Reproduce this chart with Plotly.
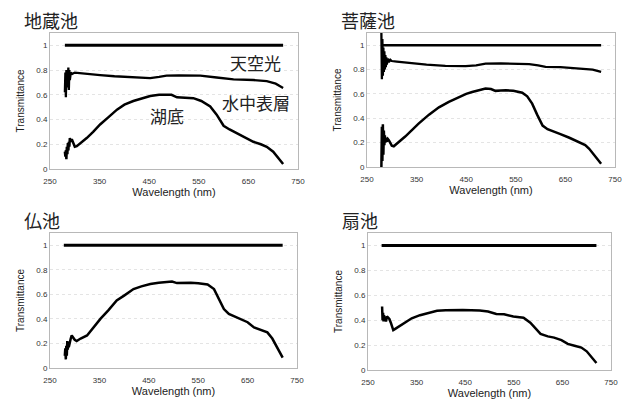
import plotly.graph_objects as go

# ---------------- data ----------------
titles = ["地蔵池", "菩薩池", "仏池", "扇池"]

sky_wl = [[280, 720], [280, 722], [278, 721], [278, 720]]
sky_val = [[1.0, 1.0], [1.0, 1.0], [1.0, 1.0], [1.0, 1.0]]

# 地蔵池
p1_surf_wl = [280, 281, 282, 283, 284, 285, 286, 287, 288, 289, 290, 292, 295, 300, 310, 330, 351,
              380, 420, 452, 470, 485, 510, 553, 586, 620, 660, 687, 705, 720]
p1_surf_val = [0.62, 0.78, 0.58, 0.80, 0.66, 0.79, 0.70, 0.82, 0.64, 0.80, 0.72, 0.78, 0.77, 0.78,
               0.775, 0.765, 0.76, 0.75, 0.74, 0.735, 0.745, 0.755, 0.758, 0.755, 0.74, 0.725, 0.72,
               0.71, 0.69, 0.655]
p1_bot_wl = [280, 281, 282, 283, 284, 285, 286, 287, 288, 289, 290, 292, 294, 297, 300, 304, 312,
             324, 337, 351, 368, 385, 400, 418, 435, 452, 470, 485, 495, 506, 520, 539, 555, 573,
             586, 600, 612, 627, 645, 660, 675, 687, 700, 710, 720]
p1_bot_val = [0.14, 0.10, 0.15, 0.08, 0.18, 0.12, 0.21, 0.15, 0.22, 0.18, 0.25, 0.22, 0.24, 0.20,
              0.18, 0.185, 0.21, 0.25, 0.30, 0.36, 0.42, 0.48, 0.52, 0.55, 0.57, 0.59, 0.60, 0.603,
              0.60, 0.58, 0.575, 0.573, 0.55, 0.505, 0.44, 0.35, 0.32, 0.29, 0.255, 0.22, 0.20,
              0.18, 0.14, 0.09, 0.04]

# 菩薩池
p2_surf_wl = [279, 280, 281, 282, 283, 284, 285, 286, 287, 288, 289, 290, 292, 294, 297, 300, 310,
              320, 341, 370, 408, 449, 470, 489, 520, 543, 577, 595, 610, 640, 678, 705, 722]
p2_surf_val = [1.1, 0.72, 1.05, 0.75, 0.98, 0.78, 0.95, 0.80, 0.92, 0.82, 0.90, 0.84, 0.89, 0.86,
               0.88, 0.87, 0.865, 0.86, 0.85, 0.84, 0.83, 0.828, 0.835, 0.848, 0.85, 0.85, 0.845,
               0.835, 0.822, 0.82, 0.81, 0.80, 0.78]
p2_bot_wl = [279, 280, 281, 282, 283, 284, 285, 286, 287, 288, 290, 292, 294, 297, 300, 304, 310,
             327, 340, 354, 375, 395, 415, 435, 450, 462, 475, 489, 500, 509, 520, 530, 545, 563,
             573, 583, 593, 604, 614, 624, 640, 658, 678, 690, 698, 710, 722]
p2_bot_val = [0.0, 0.33, 0.05, 0.35, 0.10, 0.30, 0.18, 0.26, 0.20, 0.24, 0.21, 0.23, 0.22, 0.20,
              0.175, 0.17, 0.19, 0.25, 0.30, 0.356, 0.43, 0.49, 0.535, 0.575, 0.60, 0.616, 0.63,
              0.644, 0.64, 0.625, 0.628, 0.63, 0.625, 0.61, 0.58, 0.52, 0.43, 0.34, 0.31, 0.296,
              0.27, 0.24, 0.205, 0.18, 0.15, 0.09, 0.027]

# 仏池
p3_bot_wl = [280, 281, 282, 283, 284, 285, 286, 287, 288, 290, 292, 294, 297, 300, 304, 312, 325,
             338, 352, 368, 385, 400, 419, 435, 453, 470, 487, 497, 507, 520, 535, 550, 569, 582,
             592, 602, 612, 623, 637, 650, 663, 677, 690, 700, 710, 721]
p3_bot_val = [0.10, 0.16, 0.07, 0.18, 0.10, 0.22, 0.15, 0.21, 0.17, 0.22, 0.24, 0.265, 0.25, 0.23,
              0.22, 0.24, 0.265, 0.33, 0.40, 0.47, 0.55, 0.59, 0.643, 0.665, 0.684, 0.695, 0.705,
              0.705, 0.692, 0.695, 0.695, 0.69, 0.68, 0.643, 0.56, 0.48, 0.44, 0.42, 0.40, 0.373,
              0.33, 0.31, 0.29, 0.24, 0.17, 0.084]

# 扇池
p4_bot_wl = [279, 280, 281, 282, 283, 284, 285, 287, 289, 291, 294, 297, 300, 302, 306, 312, 325,
             340, 357, 375, 392, 410, 445, 480, 497, 514, 530, 549, 570, 584, 595, 605, 620, 633,
             648, 661, 675, 689, 700, 710, 720]
p4_bot_val = [0.51, 0.40, 0.46, 0.39, 0.44, 0.40, 0.43, 0.39, 0.43, 0.42, 0.41, 0.38, 0.33, 0.32,
              0.33, 0.345, 0.38, 0.415, 0.44, 0.46, 0.475, 0.48, 0.482, 0.477, 0.47, 0.45, 0.447,
              0.43, 0.42, 0.38, 0.33, 0.29, 0.27, 0.26, 0.24, 0.21, 0.195, 0.18, 0.15, 0.10, 0.056]

x_ticks = [250, 350, 450, 550, 650, 750]
y_ticks = [0, 0.2, 0.4, 0.6, 0.8, 1]

# ---------------- layout geometry (pixels) ----------------
W, H = 627, 399
boxes = [(50, 298, 33, 169), (367, 615, 33, 167), (50, 297, 233, 368), (368, 611, 233, 370)]

fig = go.Figure()
LINE = "black"

series = [
    [(sky_wl[0], sky_val[0], 3), (p1_surf_wl, p1_surf_val, 2.3), (p1_bot_wl, p1_bot_val, 2.5)],
    [(sky_wl[1], sky_val[1], 2.5), (p2_surf_wl, p2_surf_val, 2.3), (p2_bot_wl, p2_bot_val, 2.5)],
    [(sky_wl[2], sky_val[2], 3), (p3_bot_wl, p3_bot_val, 2.5)],
    [(sky_wl[3], sky_val[3], 3), (p4_bot_wl, p4_bot_val, 2.5)],
]

tickfont = dict(family="Liberation Sans, Arial", size=8, color="#333")
for i, (x0, x1, y0, y1) in enumerate(boxes):
    n = "" if i == 0 else str(i + 1)
    for (xs, ys, w) in series[i]:
        fig.add_trace(go.Scatter(x=xs, y=ys, mode="lines", line=dict(color=LINE, width=w),
                                 xaxis="x" + n, yaxis="y" + n, showlegend=False, hoverinfo="skip"))
    fig.layout["xaxis" + n] = dict(
        domain=[x0 / W, x1 / W], anchor="y" + n, range=[250, 750], tickvals=x_ticks,
        showline=True, linecolor="#b8b8b8", linewidth=1, mirror=True, showgrid=False,
        zeroline=False, ticks="", tickfont=tickfont, automargin=False, ticklabelstandoff=4,
        title=dict(text="Wavelength (nm)", font=dict(family="Liberation Sans, Arial", size=11, color="#222"), standoff=2),
    )
    fig.layout["yaxis" + n] = dict(
        domain=[1 - y1 / H, 1 - y0 / H], anchor="x" + n, range=[0, 1.1], tickvals=y_ticks,
        showline=True, linecolor="#b8b8b8", linewidth=1, mirror=True, showgrid=True,
        gridcolor="#e4e4e4", griddash="dot", gridwidth=1, zeroline=False, ticks="",
        tickfont=tickfont, automargin=False,
        title=dict(text="Transmittance", font=dict(family="Liberation Sans, Arial", size=10, color="#222"), standoff=9),
    )
    fig.add_annotation(text=titles[i], xref="paper", yref="paper",
                       x=(x0 - 28) / W, y=1 - (y0 - 13) / H, xanchor="left", yanchor="middle",
                       showarrow=False, font=dict(family="Noto Sans CJK JP", size=18, color="#222"))

labels = [("天空光", 255, 62), ("水中表層", 256, 102), ("湖底", 167, 115)]
for t, px, py in labels:
    fig.add_annotation(text=t, xref="paper", yref="paper", x=px / W, y=1 - py / H,
                       xanchor="center", yanchor="middle", showarrow=False,
                       font=dict(family="Noto Sans CJK JP", size=17, color="#222"))

fig.update_layout(width=W, height=H, margin=dict(l=0, r=0, t=0, b=0),
                  paper_bgcolor="white", plot_bgcolor="white")
fig.write_html("out.html", config={"displayModeBar": False},
               post_script="document.body.style.margin='0';document.body.style.overflow='hidden';")
